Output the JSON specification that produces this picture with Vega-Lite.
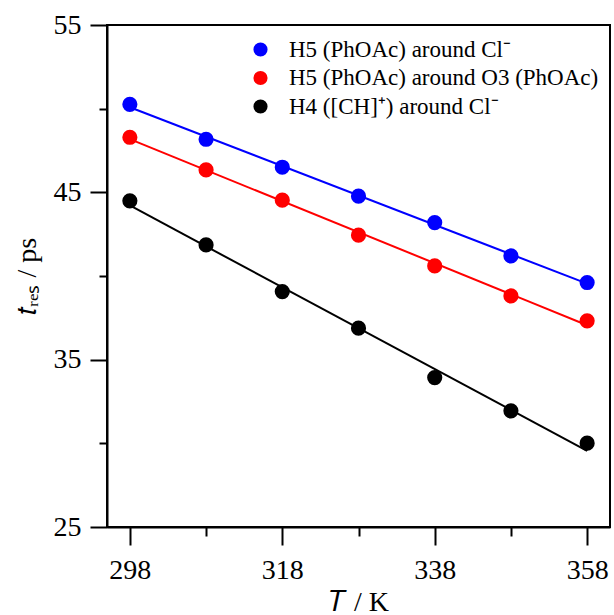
{
  "$schema": "https://vega.github.io/schema/vega-lite/v6.json",
  "width": 503,
  "height": 502,
  "autosize": {"type": "none"},
  "padding": {"left": 107, "top": 25, "right": 4, "bottom": 88},
  "background": "white",
  "config": {
    "view": {"stroke": "black", "strokeWidth": 2},
    "font": "Liberation Serif",
    "axis": {
      "grid": false,
      "domainColor": "black",
      "domainWidth": 2,
      "tickColor": "black",
      "tickWidth": 2,
      "labelFont": "Liberation Serif",
      "labelFontSize": 28,
      "labelColor": "black",
      "titleFont": "Liberation Serif",
      "titleFontSize": 28,
      "titleFontWeight": "normal",
      "titleColor": "black"
    }
  },
  "data": {
    "values": [
      {"T": 298, "t": 50.26, "series": "H5 (PhOAc) around Cl⁻"},
      {"T": 308, "t": 48.17, "series": "H5 (PhOAc) around Cl⁻"},
      {"T": 318, "t": 46.50, "series": "H5 (PhOAc) around Cl⁻"},
      {"T": 328, "t": 44.77, "series": "H5 (PhOAc) around Cl⁻"},
      {"T": 338, "t": 43.19, "series": "H5 (PhOAc) around Cl⁻"},
      {"T": 348, "t": 41.20, "series": "H5 (PhOAc) around Cl⁻"},
      {"T": 358, "t": 39.61, "series": "H5 (PhOAc) around Cl⁻"},
      {"T": 298, "t": 48.29, "series": "H5 (PhOAc) around O3 (PhOAc)"},
      {"T": 308, "t": 46.34, "series": "H5 (PhOAc) around O3 (PhOAc)"},
      {"T": 318, "t": 44.53, "series": "H5 (PhOAc) around O3 (PhOAc)"},
      {"T": 328, "t": 42.44, "series": "H5 (PhOAc) around O3 (PhOAc)"},
      {"T": 338, "t": 40.60, "series": "H5 (PhOAc) around O3 (PhOAc)"},
      {"T": 348, "t": 38.81, "series": "H5 (PhOAc) around O3 (PhOAc)"},
      {"T": 358, "t": 37.32, "series": "H5 (PhOAc) around O3 (PhOAc)"},
      {"T": 298, "t": 44.49, "series": "H4 ([CH]⁺) around Cl⁻"},
      {"T": 308, "t": 41.86, "series": "H4 ([CH]⁺) around Cl⁻"},
      {"T": 318, "t": 39.07, "series": "H4 ([CH]⁺) around Cl⁻"},
      {"T": 328, "t": 36.88, "series": "H4 ([CH]⁺) around Cl⁻"},
      {"T": 338, "t": 33.93, "series": "H4 ([CH]⁺) around Cl⁻"},
      {"T": 348, "t": 31.94, "series": "H4 ([CH]⁺) around Cl⁻"},
      {"T": 358, "t": 30.01, "series": "H4 ([CH]⁺) around Cl⁻"}
    ]
  },
  "layer": [
    {
      "mark": {"type": "point", "filled": true, "shape": "circle", "size": 230, "opacity": 1},
      "encoding": {
        "x": {
          "field": "T", "type": "quantitative",
          "scale": {"domain": [295, 361], "nice": false, "zero": false},
          "axis": {
            "title": "𝑇 / K",
            "values": [298, 308, 318, 328, 338, 348, 358],
            "labelExpr": "datum.value % 20 == 18 ? datum.label : ''",
            "tickSize": {"condition": {"test": "datum.value % 20 == 18", "value": 18}, "value": 9},
            "labelPadding": 11,
            "titlePadding": 4
          }
        },
        "y": {
          "field": "t", "type": "quantitative",
          "scale": {"domain": [25, 55], "nice": false, "zero": false},
          "axis": {
            "title": "𝑡ᵣₑₛ / ps",
            "values": [25, 30, 35, 40, 45, 50, 55],
            "labelExpr": "datum.value % 10 == 5 ? datum.label : ''",
            "tickSize": {"condition": {"test": "datum.value % 10 == 5", "value": 17}, "value": 8},
            "labelPadding": 9,
            "titlePadding": 12
          }
        },
        "color": {
          "field": "series", "type": "nominal",
          "scale": {
            "domain": ["H5 (PhOAc) around Cl⁻", "H5 (PhOAc) around O3 (PhOAc)", "H4 ([CH]⁺) around Cl⁻"],
            "range": ["#0000ff", "#ff0000", "#000000"]
          },
          "legend": {
            "title": null,
            "orient": "none",
            "legendX": 142,
            "legendY": 13,
            "symbolType": "circle",
            "symbolSize": 200,
            "symbolStrokeWidth": 0,
            "labelFont": "Liberation Serif",
            "labelFontSize": 23,
            "labelColor": "black",
            "labelOffset": 17,
            "labelLimit": 400,
            "rowPadding": 4.5
          }
        }
      }
    },
    {
      "transform": [{"regression": "t", "on": "T", "groupby": ["series"]}],
      "mark": {"type": "line", "strokeWidth": 2},
      "encoding": {
        "x": {"field": "T", "type": "quantitative"},
        "y": {"field": "t", "type": "quantitative"},
        "color": {"field": "series", "type": "nominal"}
      }
    }
  ]
}
